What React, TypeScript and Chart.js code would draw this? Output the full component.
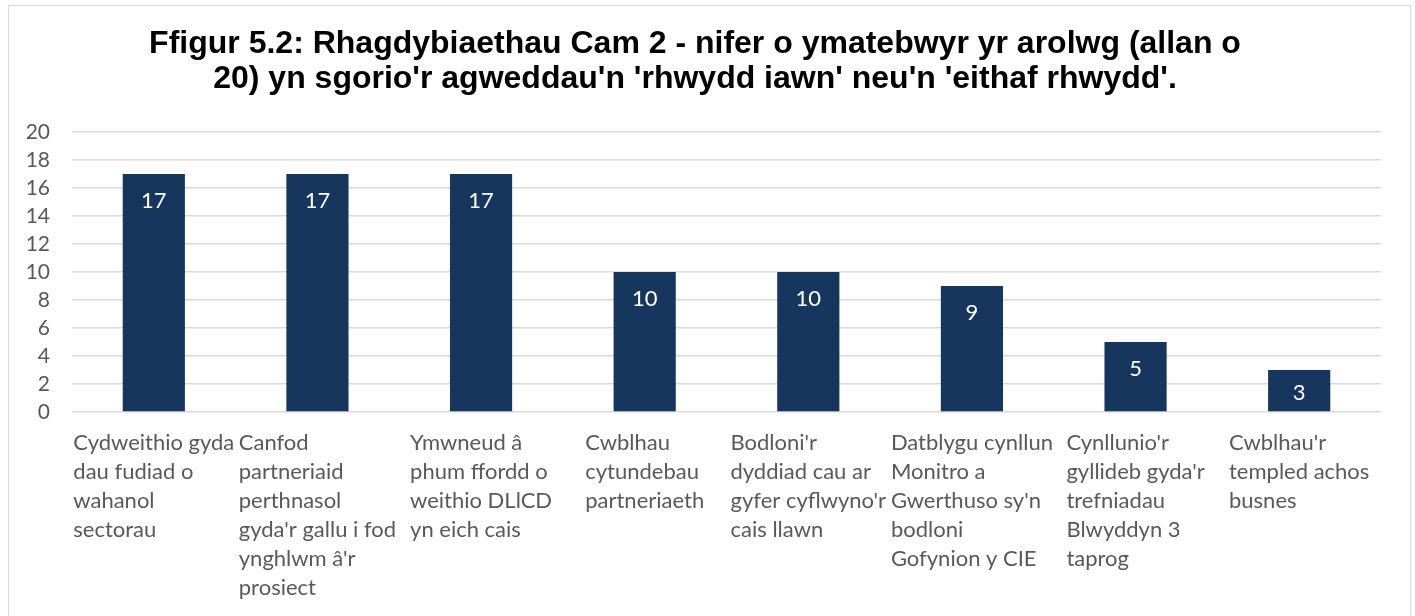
import React, { useEffect, useRef } from "react";
import { Chart, registerables } from "chart.js";

Chart.register(...registerables);

const titleLines = [
  "Ffigur 5.2: Rhagdybiaethau Cam 2 - nifer o ymatebwyr yr arolwg (allan o",
  "20) yn sgorio'r agweddau'n 'rhwydd iawn' neu'n 'eithaf rhwydd'.",
];

const categories: string[][] = [
  ["Cydweithio gyda", "dau fudiad o", "wahanol", "sectorau"],
  ["Canfod", "partneriaid", "perthnasol", "gyda'r gallu i fod", "ynghlwm â'r", "prosiect"],
  ["Ymwneud â", "phum ffordd o", "weithio DLlCD", "yn eich cais"],
  ["Cwblhau", "cytundebau", "partneriaeth"],
  ["Bodloni'r", "dyddiad cau ar", "gyfer cyflwyno'r", "cais llawn"],
  ["Datblygu cynllun", "Monitro a", "Gwerthuso sy'n", "bodloni", "Gofynion y CIE"],
  ["Cynllunio'r", "gyllideb gyda'r", "trefniadau", "Blwyddyn 3", "taprog"],
  ["Cwblhau'r", "templed achos", "busnes"],
];

const values = [17, 17, 17, 10, 10, 9, 5, 3];

const yMin = 0;
const yMax = 20;
const yStep = 2;

const BAR_COLOR = "#17365D";
const TEXT_GREY = "#595959";
const GRID = "#D9D9D9";
const FONT = "Lato, 'Open Sans', sans-serif";

const labelsPlugin = {
  id: "customLabels",
  afterDatasetsDraw(chart: any) {
    const ctx = chart.ctx;
    const meta = chart.getDatasetMeta(0);
    ctx.save();
    ctx.font = `22px ${FONT}`;
    ctx.fillStyle = "#FFFFFF";
    ctx.textAlign = "center";
    ctx.textBaseline = "middle";
    meta.data.forEach((bar: any, i: number) => {
      const top = bar.y;
      const base = bar.base;
      const y = Math.min(top + 27, (top + base) / 2 + 2);
      ctx.fillText(String(values[i]), bar.x, y);
    });
    ctx.restore();
  },
  afterDraw(chart: any) {
    const ctx = chart.ctx;
    const xScale = chart.scales.x;
    const area = chart.chartArea;
    ctx.save();
    ctx.font = `22px ${FONT}`;
    ctx.fillStyle = TEXT_GREY;
    ctx.textAlign = "left";
    ctx.textBaseline = "alphabetic";
    categories.forEach((lines, i) => {
      const cx = xScale.getPixelForValue(i);
      const maxW = Math.max(...lines.map((l) => ctx.measureText(l).width));
      const left = cx - maxW / 2;
      lines.forEach((line, j) => {
        ctx.fillText(line, left, area.bottom + 38 + j * 29);
      });
    });
    ctx.restore();
  },
};

export default function App() {
  const ref = useRef<HTMLCanvasElement | null>(null);
  useEffect(() => {
    if (!ref.current) return;
    const chart = new Chart(ref.current, {
      type: "bar",
      data: {
        labels: categories,
        datasets: [
          {
            data: values,
            backgroundColor: BAR_COLOR,
            borderWidth: 0,
            categoryPercentage: 1,
            barPercentage: 0.38,
          },
        ],
      },
      options: {
        responsive: false,
        animation: false,
        layout: { padding: { left: 0, right: 29, top: 0, bottom: 0 } },
        plugins: {
          legend: { display: false },
          tooltip: { enabled: false },
          title: {
            display: true,
            text: titleLines,
            color: "#000000",
            font: { family: "'Liberation Sans', Arial, sans-serif", size: 32, weight: "bold", lineHeight: 35 / 32 },
            padding: { top: 21, bottom: 35 },
          },
        },
        scales: {
          x: {
            grid: { display: false, drawTicks: false },
            border: { display: false },
            ticks: { display: false },
            afterFit: (s: any) => {
              s.height = 214;
            },
          },
          y: {
            min: yMin,
            max: yMax,
            grid: { color: GRID, lineWidth: 1.5, drawTicks: false },
            border: { display: false },
            ticks: {
              stepSize: yStep,
              autoSkip: false,
              padding: 22,
              color: TEXT_GREY,
              font: { family: FONT, size: 21 },
            },
            afterFit: (s: any) => {
              s.width = 63;
            },
          },
        },
      },
      plugins: [labelsPlugin],
    });
    return () => chart.destroy();
  }, []);

  return (
    <div
      style={{
        position: "fixed",
        left: 8,
        top: 5,
        width: 1403,
        height: 640,
        border: "1px solid #D9D9D9",
        boxSizing: "border-box",
        background: "#FFFFFF",
      }}
    >
      <canvas ref={ref} width={1401} height={620} style={{ display: "block" }} />
    </div>
  );
}
